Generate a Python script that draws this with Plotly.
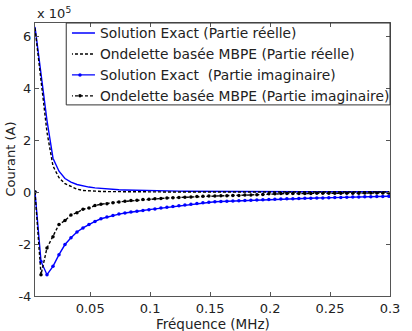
import plotly.graph_objects as go

# Frequency (MHz)
freq = [0.004, 0.009, 0.014, 0.019, 0.024, 0.029, 0.034, 0.039, 0.044, 0.049,
        0.054, 0.059, 0.064, 0.069, 0.074, 0.079, 0.084, 0.089, 0.094, 0.099,
        0.104, 0.109, 0.114, 0.119, 0.124, 0.129, 0.134, 0.139, 0.144, 0.149,
        0.154, 0.159, 0.164, 0.169, 0.174, 0.179, 0.184, 0.189, 0.194, 0.199,
        0.204, 0.209, 0.214, 0.219, 0.224, 0.229, 0.234, 0.239, 0.244, 0.249,
        0.254, 0.259, 0.264, 0.269, 0.274, 0.279, 0.284, 0.289, 0.294, 0.299]

# Current values in units of 1e5 A
exact_real = [6.35, 4.55, 2.75, 1.30, 0.80, 0.52, 0.38, 0.29, 0.23, 0.19,
              0.16, 0.135, 0.115, 0.10, 0.088, 0.078, 0.070, 0.063, 0.057, 0.052,
              0.047, 0.043, 0.040, 0.037, 0.034, 0.031, 0.029, 0.027, 0.025, 0.023,
              0.022, 0.021, 0.020, 0.019, 0.018, 0.017, 0.016, 0.016, 0.015, 0.015,
              0.014, 0.014, 0.013, 0.013, 0.012, 0.012, 0.012, 0.011, 0.011, 0.011,
              0.010, 0.010, 0.010, 0.010, 0.009, 0.009, 0.009, 0.009, 0.009, 0.008]

mbpe_real = [6.30, 4.25, 2.30, 1.00, 0.55, 0.32, 0.20, 0.11, 0.06, 0.04,
             0.030, 0.022, 0.016, 0.012, 0.010, 0.008, 0.006, 0.005, 0.004, 0.003,
             0.003, 0.002, 0.002, 0.002, 0.002, 0.002, 0.001, 0.001, 0.001, 0.001,
             0.001, 0.001, 0.001, 0.001, 0.001, 0.001, 0.001, 0.001, 0.001, 0.001,
             0.001, 0.001, 0.001, 0.001, 0.001, 0.001, 0.001, 0.001, 0.001, 0.001,
             0.001, 0.001, 0.001, 0.001, 0.001, 0.001, 0.001, 0.001, 0.001, 0.001]

exact_imag = [0.0, -2.67, -3.18, -2.86, -2.41, -2.02, -1.76, -1.54, -1.38, -1.25,
              -1.13, -1.03, -0.96, -0.90, -0.85, -0.81, -0.77, -0.74, -0.71, -0.68,
              -0.65, -0.62, -0.59, -0.56, -0.53, -0.50, -0.47, -0.44, -0.41, -0.39,
              -0.375, -0.365, -0.355, -0.345, -0.335, -0.325, -0.315, -0.305, -0.295, -0.285,
              -0.278, -0.271, -0.264, -0.257, -0.250, -0.244, -0.238, -0.232, -0.226, -0.220,
              -0.214, -0.208, -0.202, -0.196, -0.190, -0.185, -0.180, -0.175, -0.170, -0.165]

mbpe_imag = [0.0, -3.18, -2.15, -1.72, -1.25, -1.10, -0.88, -0.80, -0.66, -0.62,
             -0.52, -0.47, -0.45, -0.41, -0.38, -0.36, -0.33, -0.32, -0.29, -0.28,
             -0.26, -0.25, -0.23, -0.22, -0.21, -0.20, -0.19, -0.17, -0.16, -0.15,
             -0.15, -0.14, -0.14, -0.13, -0.13, -0.12, -0.12, -0.11, -0.10, -0.07,
             -0.065, -0.06, -0.06, -0.06, -0.055, -0.055, -0.055, -0.05, -0.05, -0.05,
             -0.05, -0.045, -0.045, -0.045, -0.045, -0.04, -0.04, -0.04, -0.04, -0.04]

series_names = ["Solution Exact (Partie réelle)",
                "Ondelette basée MBPE (Partie réelle)",
                "Solution Exact  (Partie imaginaire)",
                "Ondelette basée MBPE (Partie imaginaire)"]

x_ticks = [0.05, 0.1, 0.15, 0.2, 0.25, 0.3]
x_ticktext = ["0.05", "0.1", "0.15", "0.2", "0.25", "0.3"]
y_ticks = [-4, -2, 0, 2, 4, 6]
y_ticktext = ["-4", "-2", "0", "2", "4", "6"]

FONT = "DejaVu Sans"
BLUE = "#0000ff"
TXT = "#222222"

fig = go.Figure()
fig.add_trace(go.Scatter(x=freq, y=exact_real, mode="lines", name=series_names[0],
                         line=dict(color=BLUE, width=1.4)))
fig.add_trace(go.Scatter(x=freq, y=mbpe_real, mode="lines", name=series_names[1],
                         line=dict(color="black", width=1.4, dash="3px,2px")))
fig.add_trace(go.Scatter(x=freq, y=exact_imag, mode="lines+markers", name=series_names[2],
                         line=dict(color=BLUE, width=1.4),
                         marker=dict(color=BLUE, size=3.5, symbol="circle")))
fig.add_trace(go.Scatter(x=freq, y=mbpe_imag, mode="lines+markers", name=series_names[3],
                         line=dict(color="black", width=1.4, dash="3px,2px"),
                         marker=dict(color="black", size=3.5, symbol="circle")))

axis_common = dict(showline=True, linecolor="#555555", linewidth=1, mirror="ticks",
                   ticks="inside", ticklen=4, tickcolor="#555555", showgrid=False,
                   zeroline=False, tickfont=dict(family=FONT, size=13, color=TXT))

fig.update_xaxes(range=[0.004, 0.3], tickvals=x_ticks, ticktext=x_ticktext, **axis_common)
fig.update_yaxes(range=[-4, 6.5], tickvals=y_ticks, ticktext=y_ticktext, **axis_common)

fig.update_layout(
    width=412, height=331,
    margin=dict(l=35, r=13, t=23, b=35),
    paper_bgcolor="white", plot_bgcolor="white",
    font=dict(family=FONT, size=13, color=TXT),
    legend=dict(x=1.014, y=1.020, xanchor="right", yanchor="top",
                bgcolor="rgba(255,255,255,0)", borderwidth=0,
                font=dict(family=FONT, size=13.8, color=TXT),
                tracegroupgap=0, itemwidth=30, indentation=-12),
    annotations=[
        dict(text="x 10<sup>5</sup>", xref="paper", yref="paper", x=0, y=1,
             xanchor="left", yanchor="bottom", showarrow=False,
             font=dict(family=FONT, size=13, color=TXT)),
        dict(text="Courant (A)", xref="paper", yref="paper", x=0, y=0.5,
             xanchor="center", yanchor="middle",
             xshift=-25, textangle=-90, showarrow=False,
             font=dict(family=FONT, size=13, color=TXT)),
        dict(text="Fréquence (MHz)", xref="paper", yref="paper", x=0.5, y=0,
             xanchor="center", yanchor="middle",
             yshift=-28, showarrow=False,
             font=dict(family=FONT, size=13.5, color=TXT)),
    ],
)

# legend frame (decoration, aligned with the plot's top-right corner)
fig.add_shape(type="rect", xref="paper", yref="paper", x0=0.088, x1=1.0, y0=0.700, y1=1.0,
              line=dict(color="#333333", width=1), fillcolor="rgba(255,255,255,0)",
              layer="above")

fig.write_html("out.html")
